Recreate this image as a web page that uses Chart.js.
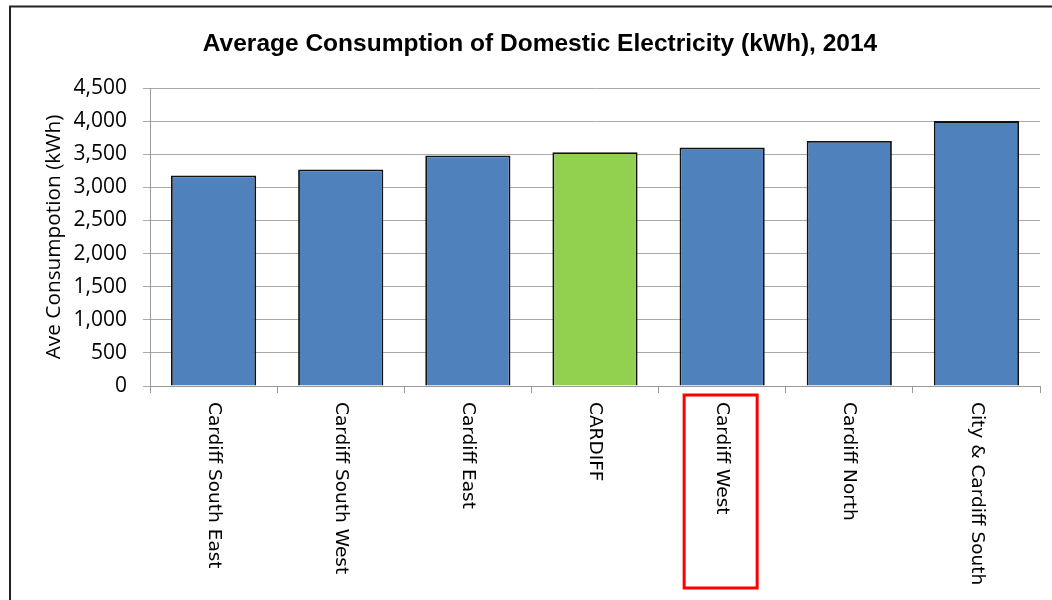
<!DOCTYPE html>
<html>
<head>
<meta charset="utf-8">
<script src="https://cdn.jsdelivr.net/npm/chart.js@4.4.1/dist/chart.umd.min.js"></script>
<style>
  html, body { margin: 0; padding: 0; background: #fff; overflow: hidden; }
  #wrap { position: absolute; left: 0; top: 0; width: 1080px; height: 600px; }
</style>
</head>
<body>
<div id="wrap"><canvas id="c" width="1080" height="600"></canvas></div>
<script>
const categories = ["Cardiff South East", "Cardiff South West", "Cardiff East", "CARDIFF", "Cardiff West", "Cardiff North", "City & Cardiff South"];
const consumption = [3180, 3270, 3480, 3530, 3600, 3700, 4000];
const yTicks = [0, 500, 1000, 1500, 2000, 2500, 3000, 3500, 4000, 4500];
const chartTitle = "Average Consumption of Domestic Electricity (kWh), 2014";
const yAxisTitle = "Ave Consumpotion (kWh)";
const highlightedCategory = "Cardiff West";
const totalCategory = "CARDIFF";

const BLUE = "#4F81BD", GREEN = "#92D050";

const decorPlugin = {
  id: "decor",
  beforeDraw(chart) {
    const ctx = chart.ctx;
    ctx.save();
    ctx.fillStyle = "#fff";
    ctx.fillRect(0, 0, chart.width, chart.height);
    ctx.restore();
  },
  afterDraw(chart) {
    const ctx = chart.ctx;
    const xs = chart.scales.x;
    const area = chart.chartArea;
    ctx.save();
    // outer frame
    ctx.strokeStyle = "#222";
    ctx.lineWidth = 2;
    ctx.beginPath();
    ctx.moveTo(10, 700);
    ctx.lineTo(10, 6.5);
    ctx.lineTo(1200, 6.5);
    ctx.stroke();
    // title
    ctx.fillStyle = "#000";
    ctx.font = "bold 24.5px 'Liberation Sans', sans-serif";
    ctx.textAlign = "center";
    ctx.textBaseline = "middle";
    ctx.fillText(chartTitle, 540, 44);
    // x labels rotated +90 (reading top to bottom)
    ctx.font = "18.5px 'DejaVu Sans', sans-serif";
    ctx.textAlign = "left";
    ctx.textBaseline = "middle";
    categories.forEach((lab, i) => {
      const x = xs.getPixelForValue(i);
      ctx.save();
      ctx.translate(x, area.bottom + 16);
      ctx.rotate(Math.PI / 2);
      ctx.fillText(lab, 0, 0);
      ctx.restore();
    });
    // red highlight box
    const hi = categories.indexOf(highlightedCategory);
    const cx = xs.getPixelForValue(hi);
    ctx.strokeStyle = "#FF0000";
    ctx.lineWidth = 3;
    ctx.strokeRect(cx - 38, area.bottom + 9, 73, 193);
    ctx.restore();
  }
};

new Chart(document.getElementById("c"), {
  type: "bar",
  data: {
    labels: categories,
    datasets: [{
      data: consumption,
      backgroundColor: categories.map(c => c === totalCategory ? GREEN : BLUE),
      borderColor: "#111",
      borderWidth: 1.8,
      categoryPercentage: 1.0,
      barPercentage: 0.67
    }]
  },
  options: {
    responsive: false,
    animation: false,
    events: [],
    layout: { padding: { top: 88, left: 0, right: 40, bottom: 0 } },
    plugins: { legend: { display: false }, title: { display: false }, tooltip: { enabled: false } },
    scales: {
      x: {
        grid: { display: true, drawOnChartArea: false, drawTicks: true, tickLength: 7, color: "#999", offset: true },
        border: { display: true, color: "#999", width: 1 },
        ticks: { display: false },
        afterFit(s) { s.height = 214; }
      },
      y: {
        min: 0, max: 4500,
        afterBuildTicks(s) { s.ticks = yTicks.map(v => ({ value: v })); },
        grid: { color: "#aaa", lineWidth: 1, drawTicks: true, tickLength: 7 },
        border: { display: true, color: "#999", width: 1 },
        ticks: {
          color: "#000",
          padding: 16,
          font: { family: "'Open Sans', sans-serif", size: 21 },
          callback: v => v.toLocaleString("en-US")
        },
        title: {
          display: true,
          text: yAxisTitle,
          color: "#000",
          font: { family: "'Open Sans', sans-serif", size: 20.8 },
          padding: { top: 42, bottom: 0 }
        },
        afterFit(s) { s.width = 150; }
      }
    }
  },
  plugins: [decorPlugin]
});
</script>
</body>
</html>
